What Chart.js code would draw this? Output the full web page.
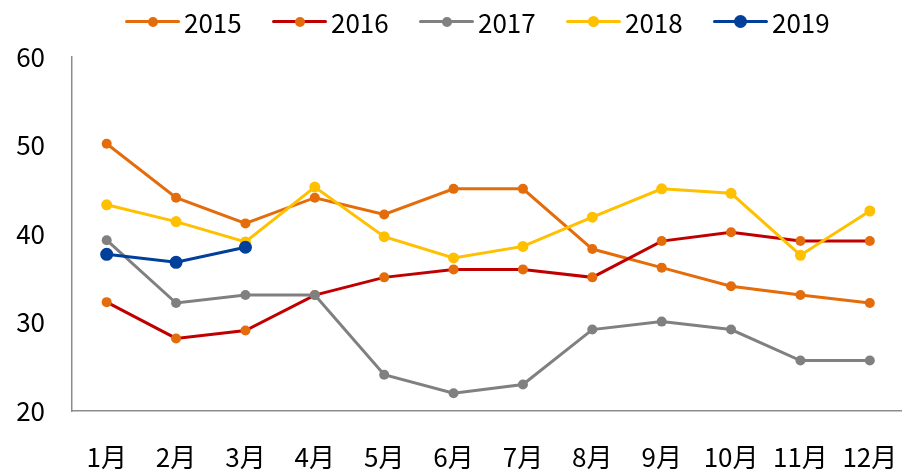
<!DOCTYPE html>
<html>
<head>
    <title>Monthly series 2015-2019</title>
    <meta charset="utf-8">
    <script src="https://cdn.jsdelivr.net/npm/chart.js"></script>
    <style>
        html, body { margin: 0; padding: 0; background: #fff; overflow: hidden; }
        #wrap { position: relative; width: 911px; height: 470px; }
        #legend { position: absolute; left: 125px; top: 7px; height: 30px; white-space: nowrap;
                  font-family: "Noto Sans CJK SC", "Noto Sans", sans-serif; font-size: 26px; line-height: 30px; color: #000; }
        #legend .item { display: inline-block; width: 147px; height: 30px; position: relative; }
        #legend .line { position: absolute; left: 0; top: 13px; width: 55px; height: 3px; border-radius: 2px; }
        #legend .dot { position: absolute; border-radius: 50%; }
        #legend .txt { position: absolute; left: 59px; top: 0; }
    </style>
</head>
<body>
    <div id="wrap">
        <canvas id="myChart"></canvas>
        <div id="legend"></div>
    </div>
    <script>
        // data
        var months = ['1月', '2月', '3月', '4月', '5月', '6月', '7月', '8月', '9月', '10月', '11月', '12月'];
        var years = ['2015', '2016', '2017', '2018', '2019'];
        var y2015 = [50.2, 44.1, 41.2, 44.1, 42.2, 45.1, 45.1, 38.3, 36.2, 34.1, 33.1, 32.2];
        var y2016 = [32.3, 28.2, 29.1, 33.1, 35.1, 36.0, 36.0, 35.1, 39.2, 40.2, 39.2, 39.2];
        var y2017 = [39.3, 32.2, 33.1, 33.1, 24.1, 22.0, 23.0, 29.2, 30.1, 29.2, 25.7, 25.7];
        var y2018 = [43.3, 41.4, 39.1, 45.3, 39.7, 37.3, 38.6, 41.9, 45.1, 44.6, 37.6, 42.6];
        var y2019 = [37.7, 36.8, 38.5];
        var yTicks = [20, 30, 40, 50, 60];

        var series = [y2015, y2016, y2017, y2018, y2019];
        var lineColors = ['#E46C0A', '#C00000', '#808080', '#FFC000', '#003F9A'];
        var dotColors = ['#E46C0A', '#E46C0A', '#808080', '#FFC000', '#003F9A'];
        var dotSizes = [5, 5, 5, 5.5, 6.5];
        var font = '"Noto Sans CJK SC", "Noto Sans", sans-serif';

        var datasets = years.map(function (y, i) {
            return {
                label: y,
                data: series[i],
                borderColor: lineColors[i],
                backgroundColor: dotColors[i],
                pointBackgroundColor: dotColors[i],
                pointBorderWidth: 0,
                pointRadius: dotSizes[i],
                borderWidth: 3,
                tension: 0,
                fill: false,
                order: 5 - i   // later years drawn on top
            };
        });

        var ctx = document.getElementById('myChart').getContext('2d');
        var myChart = new Chart(ctx, {
            type: 'line',
            data: { labels: months, datasets: datasets },
            options: {
                responsive: true,
                maintainAspectRatio: false,
                animation: false,
                layout: { padding: { left: 0, right: 0, top: 57, bottom: 0 } },
                plugins: {
                    tooltip: { enabled: false },
                    legend: { display: false }
                },
                scales: {
                    x: {
                        offset: true,
                        grid: { display: false, drawTicks: false },
                        border: { color: '#8c8c8c', width: 1.5 },
                        ticks: { color: '#000', padding: 31, maxRotation: 0, autoSkip: false, font: { family: font, size: 26 } },
                        afterFit: function (s) { s.height = 59; s.paddingLeft = 0; s.paddingRight = 0; }
                    },
                    y: {
                        min: 20,
                        max: 60,
                        grid: { display: false, drawTicks: false },
                        border: { color: '#8c8c8c', width: 1.5 },
                        afterBuildTicks: function (s) { s.ticks = yTicks.map(function (v) { return { value: v }; }); },
                        ticks: { color: '#000', padding: 27, font: { family: font, size: 26 } },
                        afterFit: function (s) { s.width = 72; }
                    }
                }
            }
        });

        // legend built from the chart's datasets
        var legend = document.getElementById('legend');
        myChart.data.datasets.forEach(function (d) {
            var r = d.pointRadius;
            var item = document.createElement('span');
            item.className = 'item';
            item.innerHTML = '<span class="line" style="background:' + d.borderColor + '"></span>' +
                '<span class="dot" style="background:' + d.pointBackgroundColor + ';width:' + (2 * r) + 'px;height:' + (2 * r) +
                'px;left:' + (27.5 - r) + 'px;top:' + (14.5 - r) + 'px"></span>' +
                '<span class="txt">' + d.label + '</span>';
            legend.appendChild(item);
        });
    </script>
</body>
</html>
